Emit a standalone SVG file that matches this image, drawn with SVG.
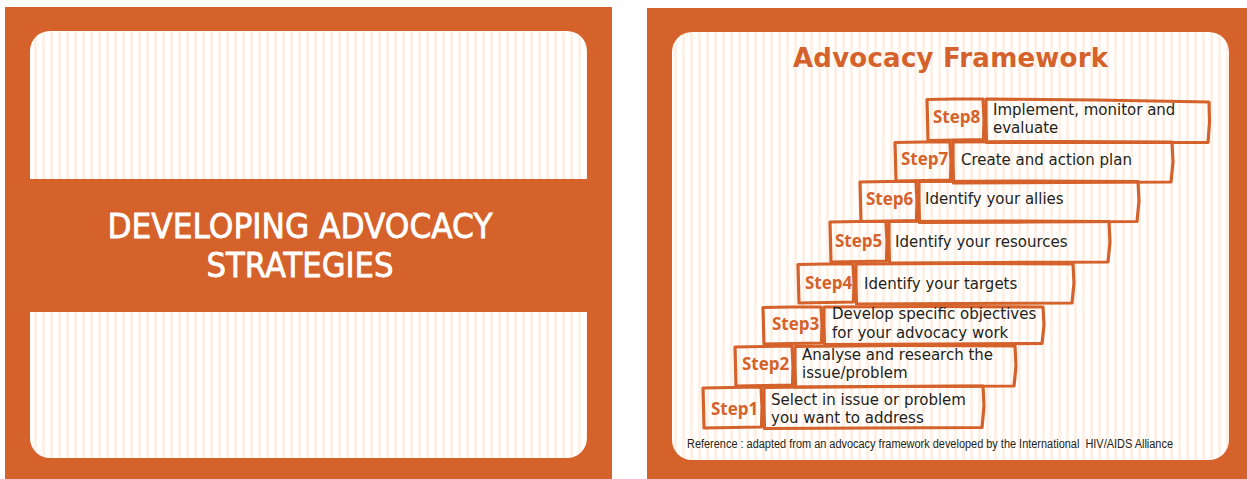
<svg xmlns="http://www.w3.org/2000/svg" width="1247" height="479" viewBox="0 0 1247 479">
<defs>
<pattern id="stripes" x="0" y="0" width="8" height="10" patternUnits="userSpaceOnUse">
<rect x="0" y="0" width="8" height="10" fill="#ffffff"/>
<rect x="2" y="0" width="3" height="10" fill="#fdf0e7"/>
</pattern>
</defs>
<style>
.frame{fill:#d5622a}
.inner{fill:url(#stripes)}
.box{fill:none;stroke:#d5622a;stroke-width:3.2;stroke-linejoin:round;stroke-linecap:round}
.lbl{font-family:"Open Sans","DejaVu Sans",sans-serif;font-weight:700;font-size:17px;fill:#d5622a}
.txt{font-family:"DejaVu Sans","Noto Sans",sans-serif;font-size:15px;fill:#231f20}
.title{font-family:"DejaVu Sans",sans-serif;font-weight:700;font-size:26px;fill:#d5622a}
.big{font-family:"DejaVu Sans",sans-serif;font-size:33px;fill:#ffffff;stroke:#ffffff;stroke-width:0.8}
.ref{font-family:"Liberation Sans",sans-serif;font-size:12px;fill:#231f20}
</style>

<g id="slide-left">
<rect class="frame" x="5" y="7" width="607" height="472"/>
<rect class="inner" x="30" y="31" width="557" height="427" rx="20" ry="20"/>
<rect class="frame" x="5" y="179" width="607" height="133"/>
<text class="big" x="300" y="238" text-anchor="middle" textLength="385" lengthAdjust="spacingAndGlyphs">DEVELOPING ADVOCACY</text>
<text class="big" x="300" y="277" text-anchor="middle" textLength="187" lengthAdjust="spacingAndGlyphs">STRATEGIES</text>
</g>

<g id="slide-right">
<rect class="frame" x="647" y="8" width="600" height="471"/>
<rect class="inner" x="672" y="32" width="557" height="428" rx="20" ry="20"/>
<text class="title" x="793" y="67" textLength="315">Advocacy Framework</text>
</g>

<g id="connectors"></g>

<g id="step1">
<path class="box" d="M703,388 L731,387.5 L761,387 L762,407 L761.5,427 L732,427.5 L704,428 L703.5,408 Z"/>
<path class="box" d="M764,387.5 L870,386.5 L983,386 L984,406 L982,427.5 L870,428 L764.5,428.5 L764,408 Z"/>
<text class="lbl" x="711" y="415">Step1</text>
<text class="txt" x="771" y="405">Select in issue or problem</text>
<text class="txt" x="771" y="423">you want to address</text>
</g>

<g id="step2">
<path class="box" d="M735,347 L764,346.5 L792,346 L793,366 L792.5,385 L764,385.5 L736,386 L735.5,366 Z"/>
<path class="box" d="M795,346.5 L905,345.5 L1015,346 L1016,366 L1014,386 L905,386.5 L795.5,387 L795,366 Z"/>
<text class="lbl" x="742" y="370">Step2</text>
<text class="txt" x="802" y="360">Analyse and research the</text>
<text class="txt" x="802" y="378">issue/problem</text>
</g>

<g id="step3">
<path class="box" d="M763,307.5 L792,307 L821,307 L822,325 L821.5,343 L792,343.5 L764,344 L763.5,326 Z"/>
<path class="box" d="M824,307 L935,306.5 L1043,307 L1044,325 L1042,343.5 L935,344 L824.5,344.5 L824,326 Z"/>
<text class="lbl" x="772" y="330">Step3</text>
<text class="txt" x="832" y="319">Develop specific objectives</text>
<text class="txt" x="832" y="338">for your advocacy work</text>
</g>

<g id="step4">
<path class="box" d="M798,264.5 L826,264 L853,264 L854,283 L853.5,302 L826,302.5 L799,303 L798.5,284 Z"/>
<path class="box" d="M856,264 L965,263.5 L1073,264 L1074,283 L1072,303 L965,303.5 L856.5,304 L856,284 Z"/>
<text class="lbl" x="805" y="289">Step4</text>
<text class="txt" x="864" y="289">Identify your targets</text>
</g>

<g id="step5">
<path class="box" d="M830,222 L858,221.5 L886,221.5 L887,241 L886.5,261 L858,261.5 L831,262 L830.5,242 Z"/>
<path class="box" d="M889,221.5 L1000,221 L1109,221.5 L1110,242 L1108,262 L1000,262.5 L889.5,263 L889,242 Z"/>
<text class="lbl" x="835" y="247">Step5</text>
<text class="txt" x="895" y="247">Identify your resources</text>
</g>

<g id="step6">
<path class="box" d="M860,182 L888,181.5 L916,181.5 L917,201 L916.5,220.5 L888,221 L861,221.5 L860.5,201 Z"/>
<path class="box" d="M919,181.5 L1030,181 L1138,181.5 L1139,201 L1137,221.5 L1030,222 L919.5,222.5 L919,202 Z"/>
<text class="lbl" x="866" y="205">Step6</text>
<text class="txt" x="925" y="204">Identify your allies</text>
</g>

<g id="step7">
<path class="box" d="M895,142.5 L923,142 L950,142 L951,161 L950.5,180 L923,180.5 L896,181 L895.5,161 Z"/>
<path class="box" d="M953,142 L1062,141.5 L1172,142 L1173,162 L1171,182 L1062,182.5 L953.5,183 L953,162 Z"/>
<text class="lbl" x="901" y="165">Step7</text>
<text class="txt" x="961" y="165">Create and action plan</text>
</g>

<g id="step8">
<path class="box" d="M927,99.5 L955,99 L983,99 L984,119 L983.5,139.5 L955,140 L928,140.5 L927.5,120 Z"/>
<path class="box" d="M986,99 L1097,100 L1209,102 L1209.5,122 L1208,142.5 L1097,142.5 L986.5,142.5 L986,120 Z"/>
<text class="lbl" x="933" y="123">Step8</text>
<text class="txt" x="993" y="115">Implement, monitor and</text>
<text class="txt" x="993" y="133">evaluate</text>
</g>

<g id="reference">
<text class="ref" x="687" y="448" textLength="486" lengthAdjust="spacingAndGlyphs" xml:space="preserve">Reference : adapted from an advocacy framework developed by the International  HIV/AIDS Alliance</text>
</g>
</svg>
